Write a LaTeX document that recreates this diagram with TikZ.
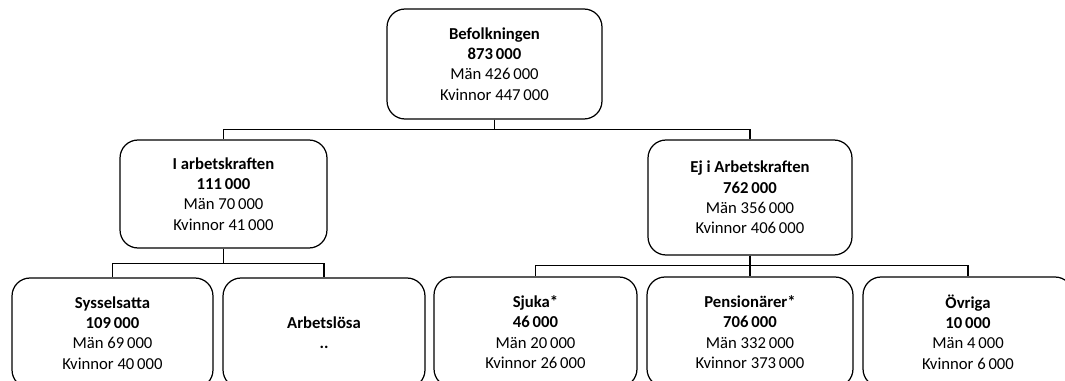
\documentclass[tikz,border=0pt]{standalone}
\usepackage{fontspec}
\setmainfont{Carlito}
\usetikzlibrary{positioning}

\begin{document}
\begin{tikzpicture}[x=0.02cm, y=-0.02cm,
    box/.style={draw, line width=0.7pt, rounded corners=0.36cm, align=center, inner sep=0pt,
      font=\fontsize{9.5}{11.6}\selectfont},
    link/.style={line width=0.7pt}]
    \path [use as bounding box, clip] (0,0) rectangle (1065,381);
    % population
    \node [box, minimum width=4.3cm, minimum height=2.2cm] (befolk) at (494.5,64)
      {\textbf{Befolkningen}\\ \textbf{873\,000}\\ Män 426\,000\\ Kvinnor 447\,000};
    % second level
    \node [box, minimum width=4.14cm, minimum height=2.16cm] (iak) at (223.5,194)
      {\textbf{I arbetskraften}\\ \textbf{111\,000}\\ Män 70\,000\\ Kvinnor 41\,000};
    \node [box, minimum width=4.08cm, minimum height=2.3cm] (ejiak) at (750,197.5)
      {\textbf{Ej i Arbetskraften}\\ \textbf{762\,000}\\ Män 356\,000\\ Kvinnor 406\,000};
    % third level
    \node [box, minimum width=4.02cm, minimum height=2.2cm] (syss) at (112.5,333)
      {\textbf{Sysselsatta}\\ \textbf{109\,000}\\ Män 69\,000\\ Kvinnor 40\,000};
    \node [box, minimum width=4.04cm, minimum height=2.2cm] (arbl) at (324,333)
      {\textbf{Arbetslösa}\\ \textbf{..}};
    \node [box, minimum width=4.06cm, minimum height=2.2cm] (sjuka) at (535.5,332)
      {\textbf{Sjuka*}\\ \textbf{46\,000}\\ Män 20\,000\\ Kvinnor 26\,000};
    \node [box, minimum width=4.12cm, minimum height=2.2cm] (pens) at (750,332)
      {\textbf{Pensionärer*}\\ \textbf{706\,000}\\ Män 332\,000\\ Kvinnor 373\,000};
    \node [box, minimum width=4.2cm, minimum height=2.2cm] (ovr) at (968,332)
      {\textbf{Övriga}\\ \textbf{10\,000}\\ Män 4\,000\\ Kvinnor 6\,000};
    % connectors
    \foreach \n in {iak,ejiak}
      \draw [link] (befolk.south) -- ++(0,10) -| (\n.north);
    \foreach \n in {syss,arbl}
      \draw [link] (iak.south) -- ++(0,15) -| (\n.north);
    \foreach \n in {sjuka,pens,ovr}
      \draw [link] (ejiak.south) -- ++(0,10) -| (\n.north);
\end{tikzpicture}
\end{document}
